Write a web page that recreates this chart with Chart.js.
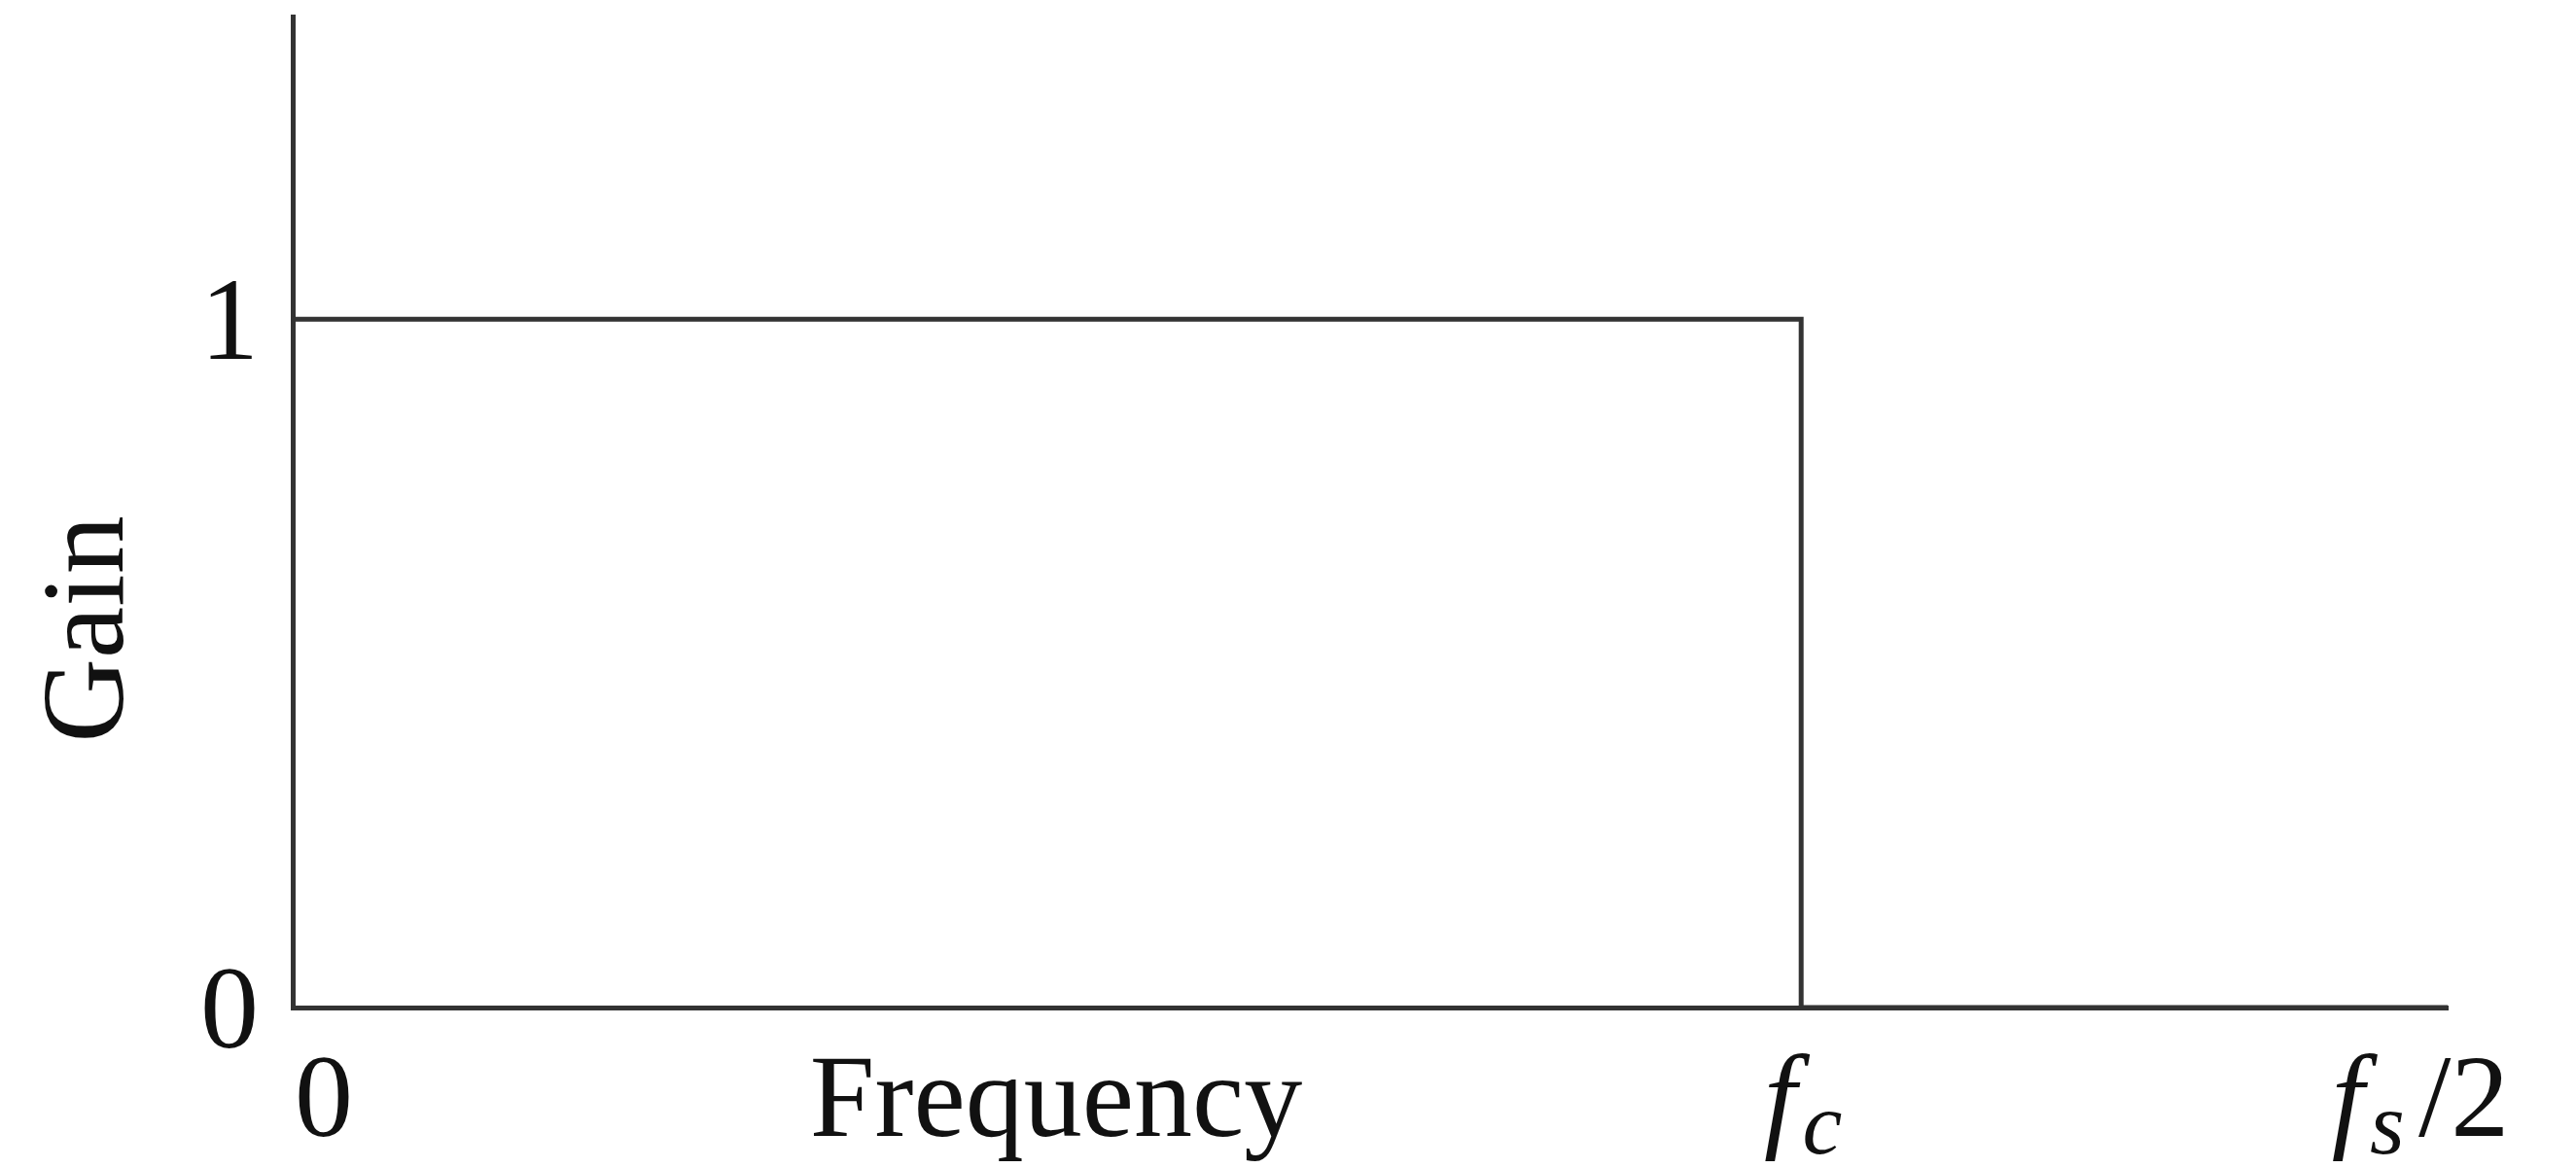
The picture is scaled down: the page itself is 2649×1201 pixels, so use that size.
<!DOCTYPE html>
<html>
<head>
<meta charset="utf-8">
<title>Ideal low-pass filter</title>
<script src="https://cdn.jsdelivr.net/npm/chart.js@4.4.0/dist/chart.umd.min.js"></script>
<style>
    html, body { margin: 0; padding: 0; background: #fff; }
    #wrap { width: 2649px; height: 1201px; position: relative; }
</style>
</head>
<body>
<div id="wrap"><canvas id="gain"></canvas></div>
<script>
// Frequency is normalised so that fs/2 = 1; the cutoff sits at 0.7 of that.
const freq = [0, 0.7, 0.7, 1];
const gain = [1, 1, 0, 0];

const xTickValues = [0, 0.7, 1];
// each label: main text, italic flag, subscript, trailing text
const xTickLabels = [
    { main: '0', italic: false, sub: '', tail: '' },
    { main: 'f', italic: true, sub: 'c', tail: '' },
    { main: 'f', italic: true, sub: 's', tail: '/2' }
];
const xTickShift = [2, 2, -28];

const yTickValues = [0, 1];
const yTickLabels = ['0', '1'];

const INK = '#333333';
const SERIF = '"Liberation Serif", "Times New Roman", serif';
const FONT_SIZE = 120;
const SUB_SIZE = 92;

// Axis labels and math-style tick labels are drawn by hand so the
// subscripts come out right; positions still come from the scales.
const labelPlugin = {
    id: 'axisText',
    afterDraw(chart) {
        const ctx = chart.ctx;
        const xs = chart.scales.x;
        const ys = chart.scales.y;
        ctx.save();
        ctx.fillStyle = '#111';
        ctx.textBaseline = 'alphabetic';

        // y ticks
        ctx.font = FONT_SIZE + 'px ' + SERIF;
        ctx.textAlign = 'right';
        yTickValues.forEach(function (v, i) {
            ctx.fillText(yTickLabels[i], 266, ys.getPixelForValue(v) + 41);
        });

        // x ticks
        const base = ys.getPixelForValue(0) + 132;
        const subGap = 6;
        const tailGap = 14;
        ctx.textAlign = 'left';
        xTickValues.forEach(function (v, i) {
            const lab = xTickLabels[i];
            const mainFont = (lab.italic ? 'italic ' : '') + FONT_SIZE + 'px ' + SERIF;
            const subFont = 'italic ' + SUB_SIZE + 'px ' + SERIF;
            const tailFont = FONT_SIZE + 'px ' + SERIF;
            ctx.font = mainFont;
            const wMain = ctx.measureText(lab.main).width;
            ctx.font = subFont;
            const wSub = lab.sub ? ctx.measureText(lab.sub).width + subGap : 0;
            ctx.font = tailFont;
            const wTail = lab.tail ? ctx.measureText(lab.tail).width + tailGap : 0;
            const total = wMain + wSub + wTail;
            const px = xs.getPixelForValue(v);
            let x = i === 0 ? px + xTickShift[i] : px - total / 2 + xTickShift[i];
            ctx.font = mainFont;
            ctx.fillText(lab.main, x, base);
            x += wMain;
            if (lab.sub) {
                ctx.font = subFont;
                ctx.fillText(lab.sub, x + subGap, base + 18);
                x += wSub;
            }
            if (lab.tail) {
                ctx.font = tailFont;
                ctx.fillText(lab.tail, x + tailGap, base);
            }
        });

        // axis titles
        ctx.font = FONT_SIZE + 'px ' + SERIF;
        ctx.textAlign = 'center';
        ctx.fillText('Frequency', 1086, base);

        ctx.translate(126, 647);
        ctx.rotate(-Math.PI / 2);
        ctx.fillText('Gain', 0, 0);
        ctx.restore();
    }
};

new Chart(document.getElementById('gain'), {
    type: 'line',
    data: {
        datasets: [{
            data: freq.map(function (f, i) { return { x: f, y: gain[i] }; }),
            borderColor: INK,
            borderWidth: 5,
            borderJoinStyle: 'miter',
            pointRadius: 0,
            tension: 0,
            fill: false
        }]
    },
    options: {
        responsive: true,
        maintainAspectRatio: false,
        animation: false,
        layout: {
            padding: { left: 301, right: 132, top: 17, bottom: 165 }
        },
        plugins: {
            legend: { display: false },
            tooltip: { enabled: false }
        },
        scales: {
            x: {
                type: 'linear',
                min: 0,
                max: 1,
                grid: { display: false, drawTicks: false },
                border: { display: true, color: INK, width: 5 },
                ticks: { display: false }
            },
            y: {
                type: 'linear',
                min: 0,
                max: 1.44,
                grid: { display: false, drawTicks: false },
                border: { display: true, color: INK, width: 5 },
                ticks: { display: false }
            }
        }
    },
    plugins: [labelPlugin]
});
</script>
</body>
</html>
